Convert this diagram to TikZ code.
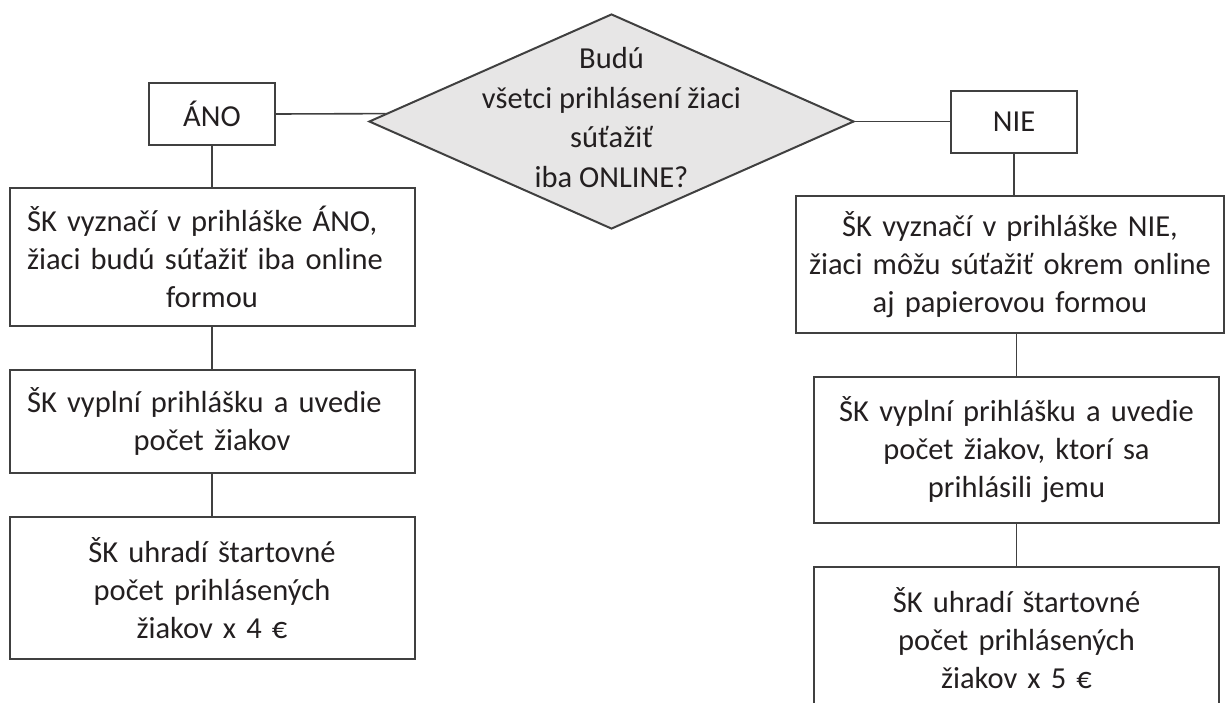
\documentclass[tikz,border=0pt]{standalone}
\usepackage{fontspec}
\setmainfont{Carlito}
\usetikzlibrary{shapes.geometric, positioning}

\definecolor{diagfill}{RGB}{231,230,230}
\definecolor{lineclr}{RGB}{64,64,64}
\definecolor{textclr}{RGB}{35,31,32}

\newcommand{\jline}[1]{\makebox[\linewidth][s]{#1}}

\tikzset{
	answer/.style={draw=lineclr, line width=1pt, inner sep=0pt, minimum width=63pt, minimum height=31pt},
	stepbox/.style={draw=lineclr, line width=1pt, inner sep=0pt, text width=185pt, minimum width=202.5pt, align=center},
	decision/.style={diamond, draw=lineclr, line width=1pt, fill=diagfill, inner sep=0pt, shape aspect=2.25, minimum width=242.5pt, minimum height=107.5pt},
	line/.style={draw=lineclr, line width=0.8pt}
}

\begin{document}
\begin{tikzpicture}[x=0.5pt, y=-0.5pt, text=textclr, font=\fontsize{15.25pt}{19pt}\selectfont]

	\useasboundingbox (0,0) rectangle (1225,702);

	\node[decision]	(q)		at	(611.5, 121.5)	{\smash{\raisebox{-3pt}{\renewcommand{\arraystretch}{1.04}\begin{tabular}{@{}c@{}}Budú\\ všetci prihlásení žiaci\\ súťažiť\\ iba ONLINE?\end{tabular}}}};

	% ANO branch
	\node[answer]	(ano)	at	(212, 114)	{ÁNO};
	\node[stepbox, minimum height=69pt]		(ano1)	at	(212, 257)		{\jline{ŠK vyznačí v prihláške ÁNO,}\\ \jline{žiaci budú súťažiť iba online}\\ formou};
	\node[stepbox, minimum height=51.5pt]	(ano2)	at	(212, 421.5)	{\jline{ŠK vyplní prihlášku a uvedie}\\ počet žiakov};
	\node[stepbox, minimum height=71pt]		(ano3)	at	(212, 588)		{ŠK uhradí štartovné\\ počet prihlásených\\ žiakov x 4 €};

	% NIE branch
	\node[answer]	(nie)	at	(1014, 121.5)	{NIE};
	\node[stepbox, text width=212pt, minimum width=214pt, minimum height=68.5pt]	(nie1)	at	(1010, 264.5)	{ŠK vyznačí v prihláške NIE,\\ žiaci môžu súťažiť okrem online\\ aj papierovou formou};
	\node[stepbox, minimum height=73pt]		(nie2)	at	(1016.5, 450)	{ŠK vyplní prihlášku a uvedie\\ počet žiakov, ktorí sa\\ prihlásili jemu};
	\node[stepbox, minimum height=71pt]		(nie3)	at	(1016.5, 638)	{ŠK uhradí štartovné\\ počet prihlásených\\ žiakov x 5 €};

	\path[line]	(ano.east)	edge	(q.178)
			(q.east)	edge	(nie.west)
			(ano.south)	edge	(ano1.north)
			(ano1.south)	edge	(ano2.north)
			(ano2.south)	edge	(ano3.north)
			(nie.south)	edge	(nie.south |- nie1.north)
			(nie2.north |- nie1.south)	edge	(nie2.north)
			(nie2.south)	edge	(nie3.north);

\end{tikzpicture}
\end{document}
